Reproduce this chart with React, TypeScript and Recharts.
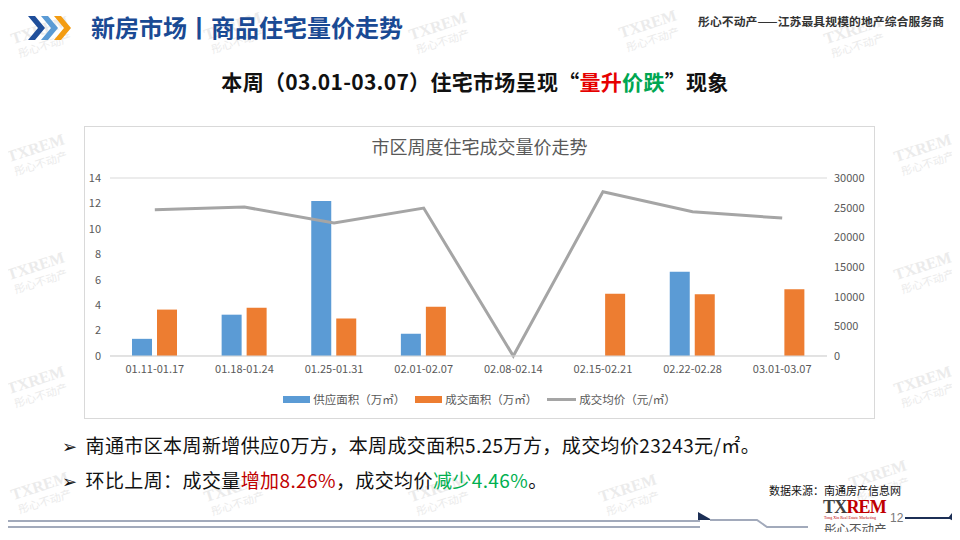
import React from "react";
import {
  ComposedChart,
  Bar,
  Line,
  XAxis,
  YAxis,
  CartesianGrid,
  Legend,
} from "recharts";

const categories = [
  "01.11-01.17",
  "01.18-01.24",
  "01.25-01.31",
  "02.01-02.07",
  "02.08-02.14",
  "02.15-02.21",
  "02.22-02.28",
  "03.01-03.07",
];
const supplyArea = [1.35, 3.25, 12.2, 1.75, 0, 0, 6.62, 0];
const dealArea = [3.65, 3.8, 2.95, 3.87, 0, 4.9, 4.85, 5.25];
const avgPrice = [24650, 25100, 22400, 24930, 0, 27680, 24328, 23243];
const leftTicks = [0, 2, 4, 6, 8, 10, 12, 14];
const rightTicks = [0, 5000, 10000, 15000, 20000, 25000, 30000];

const seriesNames = ["供应面积（万㎡）", "成交面积（万㎡）", "成交均价（元/㎡）"];

const data = categories.map((c, i) => ({
  name: c,
  supply: supplyArea[i],
  deal: dealArea[i],
  price: avgPrice[i],
}));

const FONT = '"Noto Sans CJK SC", "Noto Sans", sans-serif';

const BLUE = "#5b9bd5";
const ORANGE = "#ed7d31";
const GRAY = "#a5a5a5";

function Watermark({ x, y }: { x: number; y: number }) {
  return (
    <div
      style={{
        position: "absolute",
        left: x,
        top: y,
        transform: "rotate(-18deg)",
        color: "#ebebeb",
        lineHeight: 1,
        textAlign: "center",
        pointerEvents: "none",
      }}
    >
      <div style={{ fontFamily: '"Liberation Serif", serif', fontWeight: 700, fontSize: 16 }}>TXREM</div>
      <div style={{ fontFamily: FONT, fontSize: 11, marginTop: 2 }}>彤心不动产</div>
    </div>
  );
}

const watermarkPos: [number, number][] = [
  [12, 22], [205, 18], [410, 18], [620, 16], [825, 22],
  [8, 140], [895, 140],
  [8, 258], [895, 258],
  [8, 372], [895, 372],
  [12, 478], [205, 480], [410, 480], [600, 480], [850, 466],
];

function LegendContent() {
  const items = [
    { name: seriesNames[0], color: BLUE, type: "rect" },
    { name: seriesNames[1], color: ORANGE, type: "rect" },
    { name: seriesNames[2], color: GRAY, type: "line" },
  ];
  return (
    <div
      style={{
        display: "flex",
        justifyContent: "center",
        alignItems: "center",
        height: 16,
        fontFamily: FONT,
        fontSize: 11.5,
        color: "#595959",
        gap: 10,
      }}
    >
      {items.map((it) => (
        <div key={it.name} style={{ display: "flex", alignItems: "center" }}>
          {it.type === "rect" ? (
            <div style={{ width: 27, height: 7, background: it.color, marginRight: 3 }} />
          ) : (
            <div style={{ width: 29, height: 3, background: it.color, marginRight: 3 }} />
          )}
          <span>{it.name}</span>
        </div>
      ))}
    </div>
  );
}

export default function App() {
  return (
    <div
      style={{
        position: "relative",
        width: 960,
        height: 540,
        margin: -8,
        background: "#ffffff",
        overflow: "hidden",
        fontFamily: FONT,
      }}
    >
      {watermarkPos.map(([x, y], i) => (
        <Watermark key={i} x={x} y={y} />
      ))}

      {/* header chevrons */}
      <svg style={{ position: "absolute", left: 28, top: 16 }} width={46} height={24}>
        <polygon points="0,0 7,0 17,12 7,24 0,24 10,12" fill="#1f4e9a" />
        <polygon points="13,0 20,0 30,12 20,24 13,24 23,12" fill="#5b9bd5" />
        <polygon points="26,0 33,0 43,12 33,24 26,24 36,12" fill="#f39c12" />
      </svg>
      <div
        style={{
          position: "absolute",
          left: 91,
          top: 12,
          fontSize: 24,
          fontWeight: 700,
          color: "#1a4a94",
          lineHeight: "30px",
          whiteSpace: "nowrap",
        }}
      >
        新房市场丨商品住宅量价走势
      </div>
      <div
        style={{
          position: "absolute",
          left: 698,
          top: 12,
          fontSize: 11.8,
          fontWeight: 700,
          color: "#333",
          whiteSpace: "nowrap",
          letterSpacing: 0.1,
        }}
      >
        彤心不动产——江苏最具规模的地产综合服务商
      </div>

      {/* subtitle */}
      <div
        style={{
          position: "absolute",
          left: 0,
          width: 950,
          top: 66,
          textAlign: "center",
          fontSize: 21,
          fontWeight: 700,
          color: "#111",
          whiteSpace: "nowrap",
          lineHeight: "30px",
          letterSpacing: 0.3,
        }}
      >
        本周（03.01-03.07）住宅市场呈现“<span style={{ color: "#e60000" }}>量升</span>
        <span style={{ color: "#00a651" }}>价跌</span>”现象
      </div>

      {/* chart frame */}
      <div
        style={{
          position: "absolute",
          left: 84,
          top: 126,
          width: 791,
          height: 293,
          border: "1px solid #d9d9d9",
          boxSizing: "border-box",
          background: "#ffffff",
        }}
      />
      <div style={{ position: "absolute", left: 84, top: 126 }}>
        <div
          style={{
            position: "absolute",
            left: 0,
            width: 791,
            top: 7,
            textAlign: "center",
            fontSize: 18,
            color: "#595959",
            lineHeight: "26px",
            zIndex: 2,
          }}
        >
          市区周度住宅成交量价走势
        </div>
        <ComposedChart
          width={791}
          height={293}
          data={data}
          margin={{ top: 52, right: 0, bottom: 17, left: 0 }}
          barCategoryGap="25%"
          barGap={5}
        >
          <CartesianGrid vertical={false} stroke="#d9d9d9" />
          <XAxis
            dataKey="name"
            tickLine={false}
            axisLine={{ stroke: "#d9d9d9" }}
            tickSize={0}
            tickMargin={9}
            height={30}
            interval={0}
            tick={{ fill: "#595959", fontSize: 11, fontFamily: FONT }}
          />
          <YAxis
            yAxisId="left"
            orientation="left"
            domain={[0, 14]}
            ticks={leftTicks}
            width={26}
            tickLine={false}
            axisLine={false}
            tickSize={0}
            tickMargin={9}
            tick={{ fill: "#595959", fontSize: 11, fontFamily: FONT }}
          />
          <YAxis
            yAxisId="right"
            orientation="right"
            domain={[0, 30000]}
            ticks={rightTicks}
            width={48}
            tickLine={false}
            axisLine={false}
            tickSize={0}
            tickMargin={7}
            tick={{ fill: "#595959", fontSize: 11, fontFamily: FONT }}
          />
          <Bar
            yAxisId="left"
            dataKey="supply"
            name={seriesNames[0]}
            fill={BLUE}
            barSize={20}
            isAnimationActive={false}
          />
          <Bar
            yAxisId="left"
            dataKey="deal"
            name={seriesNames[1]}
            fill={ORANGE}
            barSize={20}
            isAnimationActive={false}
          />
          <Line
            yAxisId="right"
            dataKey="price"
            name={seriesNames[2]}
            stroke={GRAY}
            strokeWidth={3}
            dot={false}
            activeDot={false}
            type="linear"
            isAnimationActive={false}
          />
          <Legend
            verticalAlign="bottom"
            height={16}
            content={() => <LegendContent />}
            wrapperStyle={{ top: 265, bottom: "auto", left: 0, width: 791 }}
          />
        </ComposedChart>
      </div>

      {/* bullets */}
      <div
        style={{
          position: "absolute",
          left: 62,
          top: 428,
          fontSize: 19,
          color: "#111",
          lineHeight: "33px",
          whiteSpace: "nowrap",
          letterSpacing: 0.4,
        }}
      >
        <div>
          <span style={{ fontSize: 18, marginRight: 8, fontFamily: '"DejaVu Sans", sans-serif', fontWeight: 700 }}>➢</span>
          南通市区本周新增供应0万方，本周成交面积5.25万方，成交均价23243元/㎡。
        </div>
        <div>
          <span style={{ fontSize: 18, marginRight: 8, fontFamily: '"DejaVu Sans", sans-serif', fontWeight: 700 }}>➢</span>
          环比上周：成交量<span style={{ color: "#c00000" }}>增加8.26%</span>，成交均价
          <span style={{ color: "#00b050" }}>减少4.46%</span>。
        </div>
      </div>

      <div
        style={{
          position: "absolute",
          left: 769,
          top: 482,
          fontSize: 11,
          color: "#111",
          whiteSpace: "nowrap",
        }}
      >
        数据来源：南通房产信息网
      </div>

      {/* footer decoration */}
      <svg style={{ position: "absolute", left: 0, top: 495 }} width={960} height={45}>
        <line x1={0} y1={26} x2={700} y2={26} stroke="#a2aabb" strokeWidth={2} />
        <line x1={0} y1={32} x2={700} y2={32} stroke="#a2aabb" strokeWidth={2} />
        <polygon points="698,17 712,25 698,25" fill="#1c2f55" />
        <polyline points="710,25 757,25 767,32 808,32" fill="none" stroke="#a2aabb" strokeWidth={2} />
        <line x1={905} y1={23} x2={950} y2={23} stroke="#1c2f55" strokeWidth={2} />
        <polygon points="960,8 948,23 960,30" fill="#1c2f55" />
      </svg>
      <div
        style={{
          position: "absolute",
          left: 823,
          top: 500,
          fontFamily: '"Liberation Serif", serif',
          fontWeight: 700,
          fontSize: 18,
          lineHeight: "15px",
          letterSpacing: -0.8,
          whiteSpace: "nowrap",
        }}
      >
        <span style={{ color: "#404040" }}>TX</span>
        <span style={{ color: "#c00000" }}>REM</span>
      </div>
      <div
        style={{
          position: "absolute",
          left: 824,
          top: 516,
          fontSize: 4,
          lineHeight: "4px",
          color: "#c00000",
          whiteSpace: "nowrap",
          fontFamily: '"Liberation Serif", serif',
        }}
      >
        Tong Xin Real Estate Marketing
      </div>
      <div
        style={{
          position: "absolute",
          left: 824,
          top: 522,
          fontSize: 12.5,
          color: "#555",
          whiteSpace: "nowrap",
          lineHeight: "13px",
        }}
      >
        彤心不动产
      </div>
      <div
        style={{
          position: "absolute",
          left: 890,
          top: 511,
          fontSize: 12,
          lineHeight: "14px",
          color: "#777",
          fontFamily: '"Liberation Sans", sans-serif',
        }}
      >
        12
      </div>
    </div>
  );
}
